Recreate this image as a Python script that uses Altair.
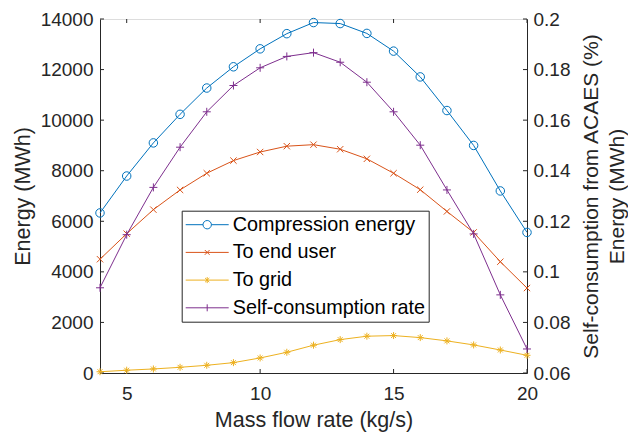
import altair as alt
import pandas as pd

# ---------------- data ----------------
FLOW = [4, 5, 6, 7, 8, 9, 10, 11, 12, 13, 14, 15, 16, 17, 18, 19, 20]
COMPRESSION = [6330, 7790, 9100, 10230, 11270, 12110, 12820, 13420, 13860,
               13820, 13430, 12730, 11710, 10380, 9000, 7200, 5560]
END_USER = [4500, 5510, 6460, 7240, 7900, 8400, 8740, 8970, 9030,
            8850, 8470, 7900, 7250, 6390, 5560, 4400, 3360]
TO_GRID = [50, 110, 160, 225, 305, 410, 595, 820, 1100,
           1320, 1455, 1480, 1400, 1270, 1110, 910, 700]
SELF_RATE = [0.0937, 0.1147, 0.1334, 0.1493, 0.1633, 0.1737, 0.1807, 0.1852, 0.1867,
             0.1829, 0.1750, 0.1633, 0.1501, 0.1324, 0.1150, 0.0909, 0.0695]

SERIES = ["Compression energy", "To end user", "To grid", "Self-consumption rate"]
COLORS = ["#0072BD", "#D95319", "#EDB120", "#7E2F8E"]

X_TICKS = [5, 10, 15, 20]
Y_TICKS = [0, 2000, 4000, 6000, 8000, 10000, 12000, 14000]
R_TICKS = [0.06, 0.08, 0.1, 0.12, 0.14, 0.16, 0.18, 0.2]

# ---------------- styling ----------------
W, H = 427, 354
FONT = "Liberation Sans"
AX = "#262626"

X_PATH = "M-1,-1L1,1M-1,1L1,-1"
PLUS_PATH = "M-1,0L1,0M0,-1L0,1"
STAR_PATH = "M-1,0L1,0M0,-1L0,1M-0.7,-0.7L0.7,0.7M-0.7,0.7L0.7,-0.7"

LEG_PATHS = [
    "M-2.15,0L-0.42,0M0.42,0L2.15,0M0.42,0A0.42,0.42 0 1 1 -0.42,0A0.42,0.42 0 1 1 0.42,0",
    "M-2.15,0L2.15,0M-0.24,-0.24L0.24,0.24M-0.24,0.24L0.24,-0.24",
    "M-2.15,0L2.15,0M0,-0.3L0,0.3M-0.21,-0.21L0.21,0.21M-0.21,0.21L0.21,-0.21",
    "M-2.15,0L2.15,0M0,-0.35L0,0.35",
]

df = pd.DataFrame({
    "flow": FLOW,
    "comp": COMPRESSION,
    "user": END_USER,
    "grid": TO_GRID,
    "self": SELF_RATE,
})

x_scale = alt.Scale(domain=[4, 20], nice=False, zero=False)
yl_scale = alt.Scale(domain=[0, 14000], nice=False)
yr_scale = alt.Scale(domain=[0.06, 0.2], nice=False, zero=False)

x_axis = alt.Axis(
    values=X_TICKS, format="d", tickSize=0, labelPadding=11, labelFontSize=19,
    labelFont=FONT, labelColor=AX, labelFlush=False, labelOverlap=False,
    domainColor=AX, title="Mass flow rate (kg/s)", titleFontSize=21.5,
    titleFont=FONT, titleFontWeight="normal", titleColor=AX,
    titleY=47, titleBaseline="middle", grid=False,
)
yl_axis = alt.Axis(
    values=Y_TICKS, format="d", tickSize=0, labelPadding=7, labelFontSize=19,
    labelFont=FONT, labelColor=AX, labelFlush=False, labelOverlap=False,
    domainColor=AX, title="Energy (MWh)", titleFontSize=21.5, titleFont=FONT,
    titleFontWeight="normal", titleColor=AX, titleX=-77, titleY=H / 2,
    titleAngle=270, titleBaseline="middle", titleAlign="center", grid=False,
)
yr_axis = alt.Axis(
    orient="right", values=R_TICKS, format=".2~f", tickSize=0, labelPadding=6,
    labelFontSize=19, labelFont=FONT, labelColor=AX, labelFlush=False,
    labelOverlap=False, domainColor=AX,
    title=["Self-consumption from ACAES (%)", "Energy (MWh)"],
    titleFontSize=21, titleFont=FONT, titleFontWeight="normal", titleColor=AX,
    titleX=64, titleY=H / 2, titleAngle=270, titleBaseline="middle",
    titleAlign="center", titleLineHeight=26, grid=False,
)

X = alt.X("flow:Q", scale=x_scale, axis=x_axis)


def yl(field):
    return alt.Y(f"{field}:Q", scale=yl_scale, axis=yl_axis)


def series(field, color, shape, size, yenc):
    line = alt.Chart(df).mark_line(color=color, strokeWidth=1).encode(x=X, y=yenc)
    pts = alt.Chart(df).mark_point(
        shape=shape, size=size, color=color, filled=False, strokeWidth=1, opacity=1
    ).encode(x=X, y=yenc)
    return [line, pts]


# inward tick marks (MATLAB style)
xt = pd.DataFrame({"flow": X_TICKS})
yt = pd.DataFrame({"tick": Y_TICKS})
tick_bottom = alt.Chart(xt).mark_rule(color=AX, strokeWidth=1).encode(
    x=X, y=alt.value(H), y2=alt.value(H - 4))
tick_top = alt.Chart(xt).mark_rule(color=AX, strokeWidth=1).encode(
    x=X, y=alt.value(0), y2=alt.value(4))
tick_left = alt.Chart(yt).mark_rule(color=AX, strokeWidth=1).encode(
    y=yl("tick"), x=alt.value(0), x2=alt.value(4))
tick_right = alt.Chart(yt).mark_rule(color=AX, strokeWidth=1).encode(
    y=yl("tick"), x=alt.value(W - 4), x2=alt.value(W))

left = alt.layer(
    tick_bottom, tick_top, tick_left, tick_right,
    *series("comp", COLORS[0], "circle", 72, yl("comp")),
    *series("user", COLORS[1], X_PATH, 40, yl("user")),
    *series("grid", COLORS[2], STAR_PATH, 49, yl("grid")),
)

yr = alt.Y("self:Q", scale=yr_scale, axis=yr_axis)
right = alt.layer(*series("self", COLORS[3], PLUS_PATH, 64, yr))

legend = alt.Legend(
    title=None, orient="none", legendX=81.7, legendY=191.7, padding=3.5,
    symbolOffset=11.5, labelOffset=15, rowPadding=6.7, symbolSize=400,
    symbolStrokeWidth=1, symbolOpacity=1, labelFontSize=19.8, labelFont=FONT,
    labelColor="#000000", labelLimit=400, strokeColor=AX, fillColor="white",
)
leg_df = pd.DataFrame({"series": SERIES})
legend_layer = alt.Chart(leg_df).mark_point(filled=False, opacity=0, strokeWidth=1).encode(
    color=alt.Color("series:N", scale=alt.Scale(domain=SERIES, range=COLORS),
                    sort=SERIES, legend=legend),
    shape=alt.Shape("series:N", scale=alt.Scale(domain=SERIES, range=LEG_PATHS),
                    sort=SERIES, legend=legend),
    size=alt.value(400),
)

chart = alt.layer(left, right, legend_layer).resolve_scale(
    y="independent"
).properties(
    width=W, height=H,
    autosize=alt.AutoSizeParams(type="none"),
    padding={"left": 100, "top": 19, "right": 101, "bottom": 62},
    background="white",
).configure_view(
    stroke=AX, strokeWidth=1
).configure(font=FONT)

chart.save("out.html", embed_options={"renderer": "svg", "actions": False})
